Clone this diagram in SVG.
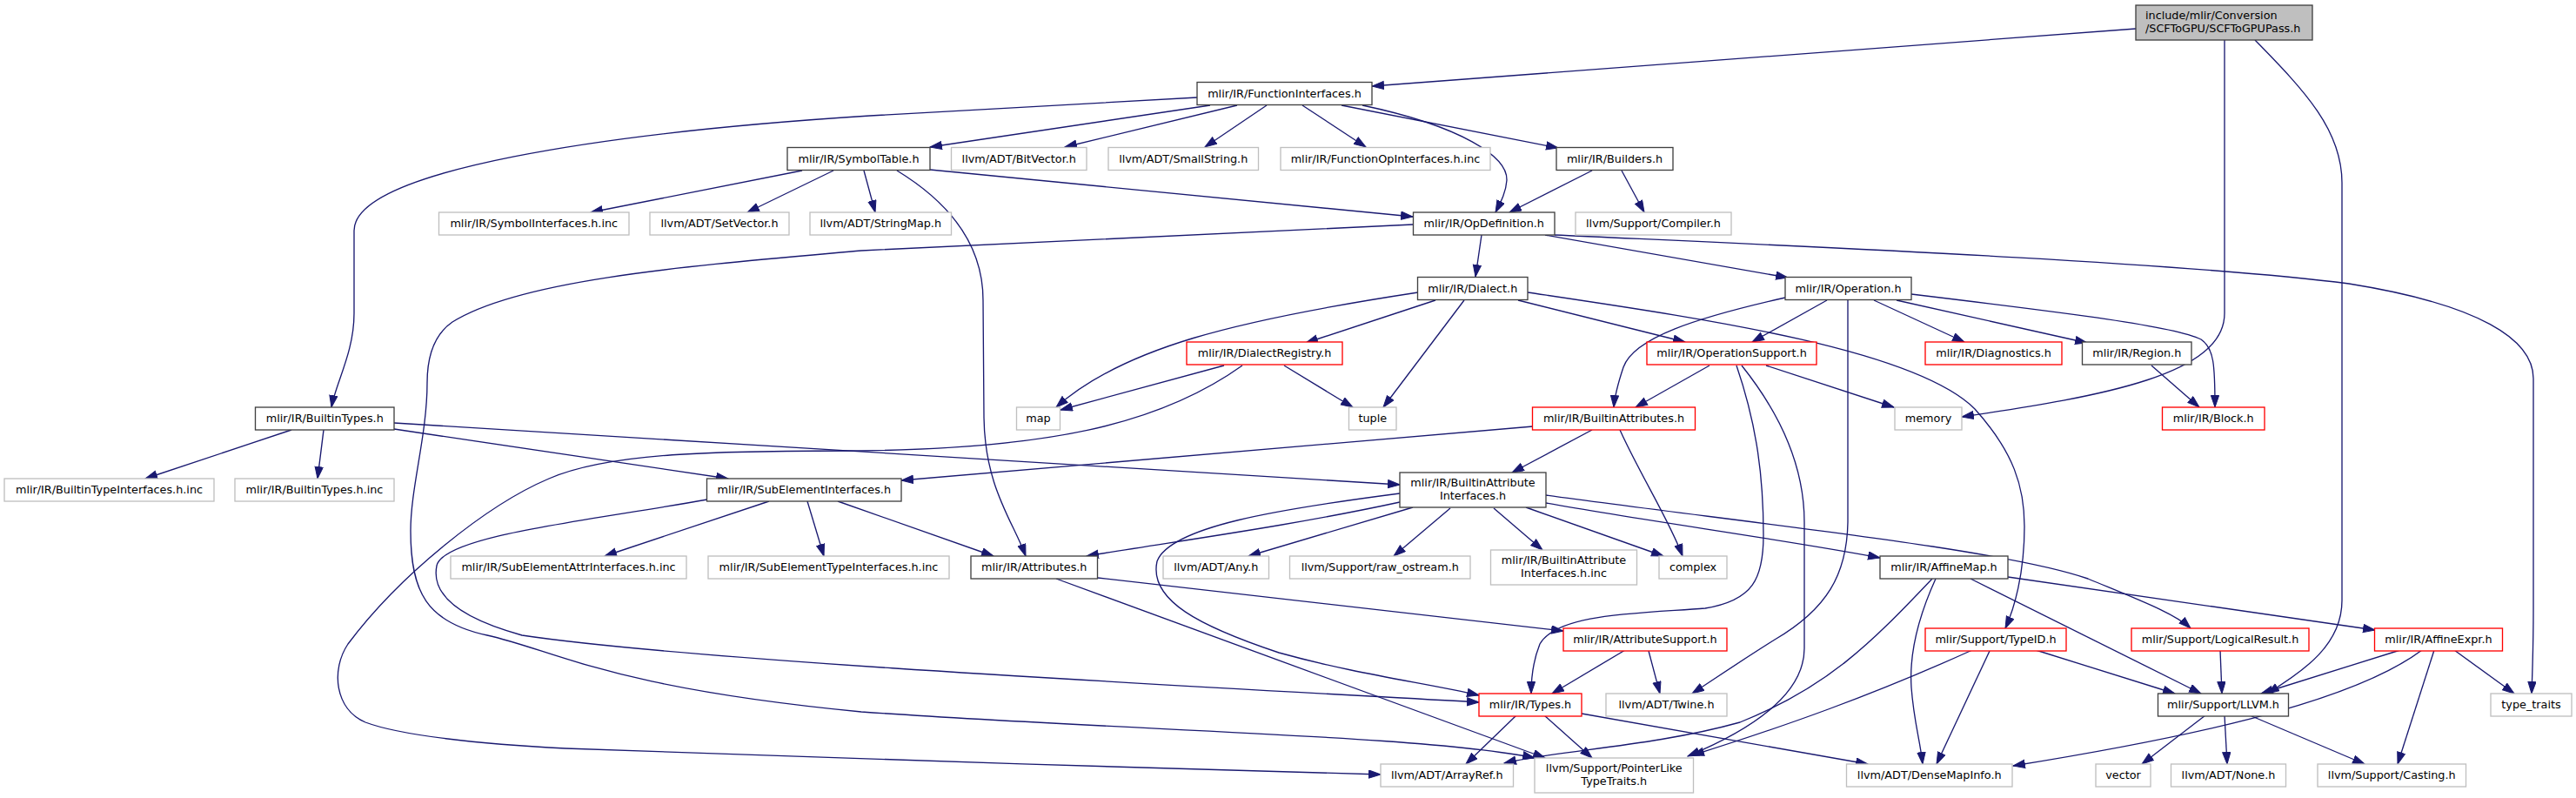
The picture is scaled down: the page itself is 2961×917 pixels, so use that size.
<svg xmlns="http://www.w3.org/2000/svg" width="2961" height="917" viewBox="0 0 2961 917">
<style>
rect{fill:#fff;stroke-width:1.33}
.k{stroke:#404040}.g{stroke:#bfbfbf}.r{stroke:#ff0000}
.root{fill:#bfbfbf;stroke:#404040}
text{font-family:"DejaVu Sans",sans-serif;font-size:12.8px;fill:#000;text-anchor:middle}
text.l{text-anchor:start}
#edges path{fill:none;stroke:#191970;stroke-width:1.33;marker-end:url(#a)}
</style>
<defs>
<marker id="a" markerUnits="userSpaceOnUse" markerWidth="15" markerHeight="11" refX="14" refY="5" orient="auto">
<path d="M0.5,0.4 L14,5 L0.5,9.6 z" fill="#191970" stroke="#191970" stroke-width="1"/>
</marker>
</defs>
<rect x="0" y="0" width="2961" height="917" style="fill:#fff;stroke:none"/>
<g id="edges">
<path d="M2455,33 L1577,99"/>
<path d="M2557,46 L2557,360 C2557,430 2420,455 2255,479"/>
<path d="M2592,46 C2650,105 2692,150 2692,210 L2692,690 C2692,740 2650,770 2606,797"/>
<path d="M1376,112 L1000,133 C700,152 407,195 407,265 L407,360 C407,405 386,440 381,468"/>
<path d="M1391,121 L1069,169"/>
<path d="M1422,121 L1224,169"/>
<path d="M1456,121 L1385,169"/>
<path d="M1497,121 L1570,169"/>
<path d="M1542,121 L1791,170"/>
<path d="M1566,121 C1680,145 1733,180 1732,207 C1731,222 1724,234 1719,244"/>
<path d="M922,196 L679,244"/>
<path d="M958,196 L859,244"/>
<path d="M993,196 L1006,244"/>
<path d="M1069,195 L1624,249"/>
<path d="M1031,196 C1095,235 1130,285 1130,345 L1131,480 C1132,560 1165,600 1179,639"/>
<path d="M1830,196 L1735,244"/>
<path d="M1864,196 L1890,244"/>
<path d="M1703,270 L1696,318"/>
<path d="M1776,270 L2055,319"/>
<path d="M1787,270 C2000,280 2500,300 2700,326 C2850,350 2912,390 2912,435 L2912,700 C2912,740 2911,770 2910,797"/>
<path d="M1624,258 L990,288 C800,305 600,320 520,370 C498,385 491,410 491,440 C491,500 472,560 472,610 C472,680 490,715 560,730 C640,748 700,790 990,818 C1300,840 1640,845 1764,871"/>
<path d="M1630,336 C1420,368 1290,400 1214,468"/>
<path d="M1650,345 L1501,394"/>
<path d="M1683,345 L1590,468"/>
<path d="M1745,345 L1937,393"/>
<path d="M1756,336 C1950,365 2200,400 2270,470 C2315,520 2327,560 2327,605 C2327,660 2315,700 2305,722"/>
<path d="M2052,342 C1950,365 1878,388 1866,422 C1860,440 1856,455 1855,468"/>
<path d="M2100,345 L2014,393"/>
<path d="M2154,345 L2258,393"/>
<path d="M2180,345 L2399,394"/>
<path d="M2197,338 C2380,360 2500,375 2530,390 C2545,400 2546,420 2546,468"/>
<path d="M2124,345 L2124,600 C2123,660 2100,700 2040,735 C2000,760 1968,782 1945,797"/>
<path d="M2473,420 L2528,468"/>
<path d="M1965,420 L1880,468"/>
<path d="M2030,420 L2177,468"/>
<path d="M1996,420 C2020,490 2027,550 2027,615 C2027,665 2015,690 1960,699 C1880,705 1790,705 1770,740 C1762,760 1760,780 1760,797"/>
<path d="M2002,420 C2050,480 2074,540 2074,600 L2074,745 C2074,800 2010,840 1940,869"/>
<path d="M2267,747 C2150,800 2050,835 1945,868"/>
<path d="M2221,665 C2150,740 2100,790 2000,830 C1900,858 1790,862 1729,877"/>
<path d="M2225,665 C2200,720 2195,760 2197,790 C2200,830 2207,850 2210,878"/>
<path d="M2265,665 L2530,797"/>
<path d="M2308,663 L2730,724"/>
<path d="M1777,578 C1900,600 2050,620 2161,641"/>
<path d="M1777,569 C2000,600 2300,630 2400,665 C2460,690 2500,705 2518,722"/>
<path d="M1609,577 C1480,605 1350,622 1249,639"/>
<path d="M1624,583 L1435,639"/>
<path d="M1667,584 L1602,639"/>
<path d="M1717,584 L1773,632"/>
<path d="M1754,583 L1912,639"/>
<path d="M1609,567 C1470,585 1345,605 1330,645 C1320,690 1380,720 1470,750 C1560,775 1640,785 1700,799"/>
<path d="M1762,490 L1036,552"/>
<path d="M1830,494 L1738,543"/>
<path d="M1862,494 C1885,545 1920,600 1934,639"/>
<path d="M335,494 L167,550"/>
<path d="M372,494 L365,550"/>
<path d="M453,493 L837,550"/>
<path d="M453,486 L1609,557"/>
<path d="M884,576 L695,639"/>
<path d="M928,576 L947,639"/>
<path d="M963,576 L1142,639"/>
<path d="M813,574 C680,598 510,615 502,650 C496,680 520,708 600,730 C800,760 1400,790 1700,807"/>
<path d="M1407,420 L1219,471"/>
<path d="M1476,420 L1555,468"/>
<path d="M1428,420 C1330,490 1200,515 990,518 C820,518 700,520 631,550 C560,580 460,660 400,740 C380,770 385,815 420,830 C460,845 550,855 650,860 C900,870 1300,882 1587,890"/>
<path d="M1262,664 L1797,725"/>
<path d="M1214,665 L1776,871"/>
<path d="M1868,747 L1784,797"/>
<path d="M1895,748 L1908,797"/>
<path d="M1743,822 L1685,878"/>
<path d="M1775,822 L1830,871"/>
<path d="M1818,820 L2147,878"/>
<path d="M2287,748 L2226,878"/>
<path d="M2340,747 L2500,797"/>
<path d="M2552,747 L2554,797"/>
<path d="M2759,747 L2599,797"/>
<path d="M2784,747 C2700,810 2500,850 2314,880"/>
<path d="M2798,747 L2756,878"/>
<path d="M2821,747 L2890,797"/>
<path d="M2535,822 L2462,878"/>
<path d="M2557,822 L2560,878"/>
<path d="M2586,822 L2718,878"/>
</g>
<g id="root"><rect class="root" x="2455" y="6" width="203" height="40"/><text class="l" x="2466" y="22">include/mlir/Conversion</text><text class="l" x="2466" y="37">/SCFToGPU/SCFToGPUPass.h</text></g>
<g id="n_fi"><rect class="k" x="1376" y="94.5" width="201" height="26"/><text x="1476.5" y="111.8">mlir/IR/FunctionInterfaces.h</text></g>
<g id="n_st"><rect class="k" x="905" y="169.5" width="164" height="26"/><text x="987" y="186.8">mlir/IR/SymbolTable.h</text></g>
<g id="n_bv"><rect class="g" x="1093.5" y="169.5" width="155.5" height="26"/><text x="1171.25" y="186.8">llvm/ADT/BitVector.h</text></g>
<g id="n_ss"><rect class="g" x="1274" y="169.5" width="172.5" height="26"/><text x="1360.25" y="186.8">llvm/ADT/SmallString.h</text></g>
<g id="n_foi"><rect class="g" x="1472" y="169.5" width="241" height="26"/><text x="1592.5" y="186.8">mlir/IR/FunctionOpInterfaces.h.inc</text></g>
<g id="n_bld"><rect class="k" x="1789" y="169.5" width="134" height="26"/><text x="1856" y="186.8">mlir/IR/Builders.h</text></g>
<g id="n_si"><rect class="g" x="504.5" y="244" width="218.5" height="26"/><text x="613.75" y="261.3">mlir/IR/SymbolInterfaces.h.inc</text></g>
<g id="n_sv"><rect class="g" x="747" y="244" width="160" height="26"/><text x="827" y="261.3">llvm/ADT/SetVector.h</text></g>
<g id="n_sm"><rect class="g" x="931" y="244" width="162.5" height="26"/><text x="1012.25" y="261.3">llvm/ADT/StringMap.h</text></g>
<g id="n_od"><rect class="k" x="1624.5" y="244" width="162.5" height="26"/><text x="1705.75" y="261.3">mlir/IR/OpDefinition.h</text></g>
<g id="n_cmp"><rect class="g" x="1811" y="244" width="179" height="26"/><text x="1900.5" y="261.3">llvm/Support/Compiler.h</text></g>
<g id="n_dia"><rect class="k" x="1629.5" y="318.5" width="126.5" height="26"/><text x="1692.75" y="335.8">mlir/IR/Dialect.h</text></g>
<g id="n_op"><rect class="k" x="2052" y="318.5" width="145" height="26"/><text x="2124.5" y="335.8">mlir/IR/Operation.h</text></g>
<g id="n_dr"><rect class="r" x="1364" y="393" width="179" height="26"/><text x="1453.5" y="410.3">mlir/IR/DialectRegistry.h</text></g>
<g id="n_os"><rect class="r" x="1893" y="393" width="195" height="26"/><text x="1990.5" y="410.3">mlir/IR/OperationSupport.h</text></g>
<g id="n_diag"><rect class="r" x="2213" y="393" width="157" height="26"/><text x="2291.5" y="410.3">mlir/IR/Diagnostics.h</text></g>
<g id="n_reg"><rect class="k" x="2393.5" y="393" width="125.5" height="26"/><text x="2456.25" y="410.3">mlir/IR/Region.h</text></g>
<g id="n_bt"><rect class="k" x="293.5" y="468" width="159.5" height="26"/><text x="373.25" y="485.3">mlir/IR/BuiltinTypes.h</text></g>
<g id="n_map"><rect class="g" x="1168.5" y="468" width="50" height="26"/><text x="1193.5" y="485.3">map</text></g>
<g id="n_tup"><rect class="g" x="1550.5" y="468" width="54.5" height="26"/><text x="1577.75" y="485.3">tuple</text></g>
<g id="n_ba"><rect class="r" x="1761.5" y="468" width="187" height="26"/><text x="1855" y="485.3">mlir/IR/BuiltinAttributes.h</text></g>
<g id="n_mem"><rect class="g" x="2178" y="468" width="77" height="26"/><text x="2216.5" y="485.3">memory</text></g>
<g id="n_blk"><rect class="r" x="2485.5" y="468" width="117.5" height="26"/><text x="2544.25" y="485.3">mlir/IR/Block.h</text></g>
<g id="n_bti"><rect class="g" x="5" y="550" width="241" height="26"/><text x="125.5" y="567.3">mlir/IR/BuiltinTypeInterfaces.h.inc</text></g>
<g id="n_btinc"><rect class="g" x="270" y="550" width="183" height="26"/><text x="361.5" y="567.3">mlir/IR/BuiltinTypes.h.inc</text></g>
<g id="n_sei"><rect class="k" x="812.5" y="550" width="223.5" height="26"/><text x="924.25" y="567.3">mlir/IR/SubElementInterfaces.h</text></g>
<g id="n_bai"><rect class="k" x="1609" y="543" width="168" height="40"/><text x="1693" y="559">mlir/IR/BuiltinAttribute</text><text x="1693" y="574">Interfaces.h</text></g>
<g id="n_seai"><rect class="g" x="518" y="639" width="271" height="26"/><text x="653.5" y="656.3">mlir/IR/SubElementAttrInterfaces.h.inc</text></g>
<g id="n_seti"><rect class="g" x="814" y="639" width="277" height="26"/><text x="952.5" y="656.3">mlir/IR/SubElementTypeInterfaces.h.inc</text></g>
<g id="n_attr"><rect class="k" x="1116" y="639" width="145.5" height="26"/><text x="1188.75" y="656.3">mlir/IR/Attributes.h</text></g>
<g id="n_any"><rect class="g" x="1337" y="639" width="121.5" height="26"/><text x="1397.75" y="656.3">llvm/ADT/Any.h</text></g>
<g id="n_raw"><rect class="g" x="1482.5" y="639" width="207.5" height="26"/><text x="1586.25" y="656.3">llvm/Support/raw_ostream.h</text></g>
<g id="n_baiinc"><rect class="g" x="1713.5" y="632" width="168" height="40"/><text x="1797.5" y="648">mlir/IR/BuiltinAttribute</text><text x="1797.5" y="663">Interfaces.h.inc</text></g>
<g id="n_cplx"><rect class="g" x="1907" y="639" width="78" height="26"/><text x="1946" y="656.3">complex</text></g>
<g id="n_am"><rect class="k" x="2161" y="639" width="147" height="26"/><text x="2234.5" y="656.3">mlir/IR/AffineMap.h</text></g>
<g id="n_as"><rect class="r" x="1797" y="722" width="188" height="26"/><text x="1891" y="739.3">mlir/IR/AttributeSupport.h</text></g>
<g id="n_tid"><rect class="r" x="2213" y="722" width="162" height="26"/><text x="2294" y="739.3">mlir/Support/TypeID.h</text></g>
<g id="n_lr"><rect class="r" x="2450" y="722" width="204" height="26"/><text x="2552" y="739.3">mlir/Support/LogicalResult.h</text></g>
<g id="n_ae"><rect class="r" x="2729.5" y="722" width="147" height="26"/><text x="2803" y="739.3">mlir/IR/AffineExpr.h</text></g>
<g id="n_ty"><rect class="r" x="1700" y="797" width="118" height="26"/><text x="1759" y="814.3">mlir/IR/Types.h</text></g>
<g id="n_tw"><rect class="g" x="1846" y="797" width="139" height="26"/><text x="1915.5" y="814.3">llvm/ADT/Twine.h</text></g>
<g id="n_llvm"><rect class="k" x="2480.5" y="797" width="150" height="26"/><text x="2555.5" y="814.3">mlir/Support/LLVM.h</text></g>
<g id="n_tt"><rect class="g" x="2863" y="797" width="93" height="26"/><text x="2909.5" y="814.3">type_traits</text></g>
<g id="n_ar"><rect class="g" x="1587" y="878" width="152.5" height="26"/><text x="1663.25" y="895.3">llvm/ADT/ArrayRef.h</text></g>
<g id="n_plt"><rect class="g" x="1764" y="871" width="182.5" height="40"/><text x="1855.25" y="887">llvm/Support/PointerLike</text><text x="1855.25" y="902">TypeTraits.h</text></g>
<g id="n_dmi"><rect class="g" x="2122.5" y="878" width="190.5" height="26"/><text x="2217.75" y="895.3">llvm/ADT/DenseMapInfo.h</text></g>
<g id="n_vec"><rect class="g" x="2409" y="878" width="63" height="26"/><text x="2440.5" y="895.3">vector</text></g>
<g id="n_none"><rect class="g" x="2495.5" y="878" width="132" height="26"/><text x="2561.5" y="895.3">llvm/ADT/None.h</text></g>
<g id="n_cast"><rect class="g" x="2664" y="878" width="170.5" height="26"/><text x="2749.25" y="895.3">llvm/Support/Casting.h</text></g>
</svg>
